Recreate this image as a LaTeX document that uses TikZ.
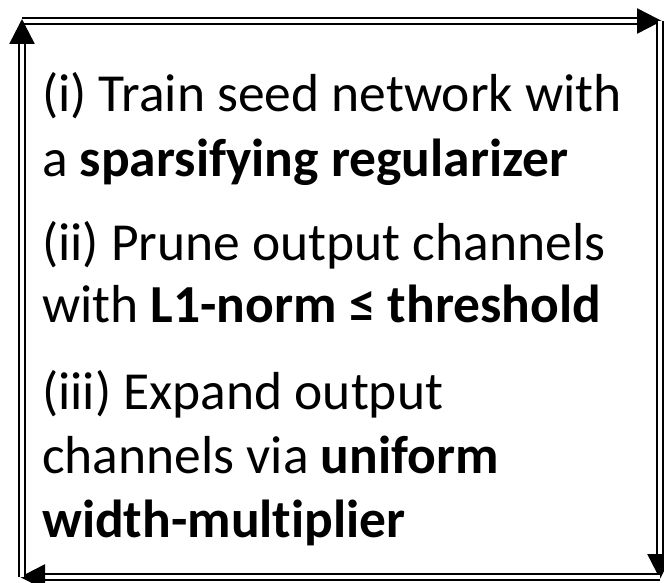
\documentclass[tikz,border=0pt]{standalone}
\usepackage{fontspec}
\setmainfont{Carlito}[Ligatures=NoCommon]
\usetikzlibrary{arrows.meta}
\tikzset{
  loop/.style={draw=black, line width=2.5pt, double=white, double distance=3.4pt,
    -{Triangle[length=25pt,width=25pt]}, shorten >=-2pt},
  txt/.style={anchor=base west, inner sep=0pt, font=\fontsize{53.5}{64}\selectfont}
}
\begin{document}
\begin{tikzpicture}[x=1pt,y=-1pt]
  \useasboundingbox (0,0) rectangle (664,583);
  % corners of the cycle
  \coordinate (tl) at (22,21);
  \coordinate (tr) at (660,21);
  \coordinate (br) at (660,577);
  \coordinate (bl) at (22,577);
  \draw[loop] (tl) -- (tr);
  \draw[loop] (tr) -- (br);
  \draw[loop] (br) -- (bl);
  \draw[loop] (bl) -- (tl);
  % step descriptions
  \node[txt] (s1a) at (42,112) {(i) Train seed network with};
  \node[txt] (s1b) at (42,176) {a \textbf{sparsifying regularizer}};
  \node[txt] (s2a) at (42,260) {(ii) Prune output channels};
  \node[txt] (s2b) at (42,322) {with \textbf{L1-norm ≤ threshold}};
  \node[txt] (s3a) at (42,409) {(iii) Expand output};
  \node[txt] (s3b) at (42,473) {channels via \textbf{uniform}};
  \node[txt] (s3c) at (42,537) {\textbf{width-multiplier}};
\end{tikzpicture}
\end{document}
